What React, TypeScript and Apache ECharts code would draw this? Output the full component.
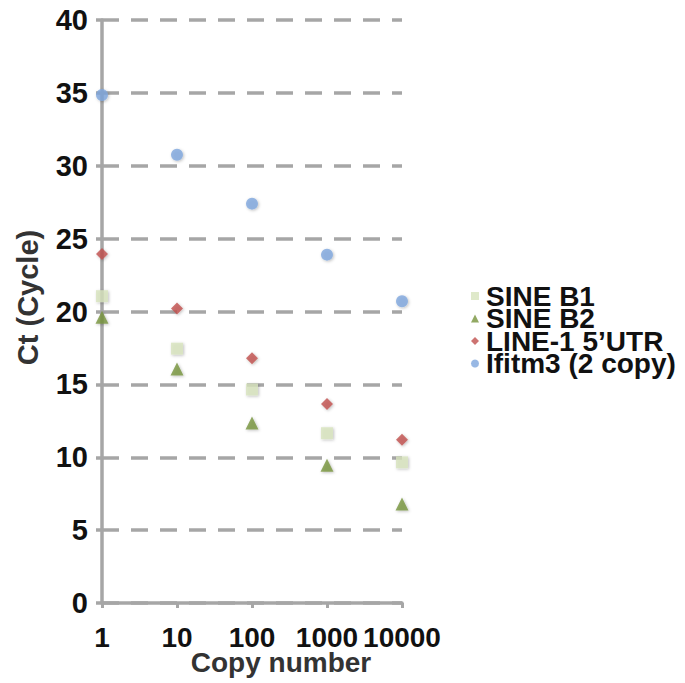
import React, { useEffect, useRef } from 'react';
import * as echarts from 'echarts';

const copyNumbers = ['1', '10', '100', '1000', '10000'];
const sineB1 = [21.05, 17.45, 14.65, 11.65, 9.65];
const sineB2 = [19.6, 16.05, 12.35, 9.45, 6.8];
const line1 = [23.95, 20.2, 16.8, 13.65, 11.2];
const ifitm3 = [34.85, 30.75, 27.4, 23.9, 20.7];
const seriesNames = ['SINE B1', 'SINE B2', 'LINE-1 5\u2019UTR', 'Ifitm3 (2 copy)'];

const FONT = "'Liberation Sans', Arial, Helvetica, sans-serif";
const GRID_GREY = '#a6a6a6';

export default function App() {
  const ref = useRef<HTMLDivElement>(null);
  useEffect(() => {
    document.body.style.margin = '0';
    const chart = echarts.init(ref.current!, null, { renderer: 'svg' });
    const shadow = {
      shadowBlur: 3,
      shadowColor: 'rgba(0,0,0,0.3)',
      shadowOffsetX: 1,
      shadowOffsetY: 1,
    };
    chart.setOption({
      animation: false,
      backgroundColor: '#ffffff',
      textStyle: { fontFamily: FONT },
      grid: {
        left: 102,
        right: 283,
        top: 20,
        bottom: 80,
        containLabel: false,
        outerBoundsMode: 'none',
      },
      legend: {
        orient: 'vertical',
        left: 466,
        top: 277,
        itemWidth: 8,
        itemHeight: 8,
        itemGap: -5.5,
        data: seriesNames,
        textStyle: {
          fontSize: 28,
          fontWeight: 'bold',
          color: '#111',
          fontFamily: FONT,
          padding: [0, 0, 0, 2],
        },
      },
      xAxis: {
        type: 'category',
        data: copyNumbers,
        boundaryGap: false,
        axisLine: { lineStyle: { color: GRID_GREY, width: 3.5 } },
        axisTick: { show: true, length: 5, lineStyle: { color: GRID_GREY, width: 3 } },
        axisLabel: {
          interval: 0,
          fontSize: 28,
          lineHeight: 20,
          fontWeight: 'bold',
          color: '#111',
          margin: 24,
          fontFamily: FONT,
        },
        splitLine: { show: false },
        name: 'Copy number',
        nameLocation: 'middle',
        nameGap: 49,
        nameMoveOverlap: false,
        nameTextStyle: {
          fontSize: 28,
          lineHeight: 20,
          fontWeight: 'bold',
          color: '#333',
          fontFamily: FONT,
          padding: [0, 0, 0, 58],
        },
      },
      yAxis: {
        type: 'value',
        min: 0,
        max: 40,
        interval: 5,
        axisLine: { show: true, lineStyle: { color: GRID_GREY, width: 3.5 } },
        axisTick: { show: true, length: 6, lineStyle: { color: GRID_GREY, width: 3.5 } },
        axisLabel: {
          fontSize: 29,
          fontWeight: 'bold',
          color: '#111',
          margin: 14,
          fontFamily: FONT,
        },
        splitLine: {
          show: true,
          lineStyle: { color: GRID_GREY, width: 3.5, type: [17, 12] },
        },
        name: 'Ct (Cycle)',
        nameLocation: 'middle',
        nameGap: 60,
        nameMoveOverlap: false,
        nameRotate: 90,
        nameTextStyle: {
          fontSize: 29,
          fontWeight: 'bold',
          color: '#333',
          fontFamily: FONT,
          padding: [0, 0, 0, 28],
        },
      },
      series: [
        {
          name: seriesNames[0],
          type: 'scatter',
          symbol: 'rect',
          symbolSize: 12,
          data: sineB1,
          itemStyle: { color: '#d7e4bd', ...shadow },
        },
        {
          name: seriesNames[1],
          type: 'scatter',
          symbol: 'triangle',
          symbolSize: 13,
          data: sineB2,
          itemStyle: { color: '#77933c', ...shadow },
        },
        {
          name: seriesNames[2],
          type: 'scatter',
          symbol: 'diamond',
          symbolSize: 12,
          data: line1,
          itemStyle: { color: '#c0504d', ...shadow },
        },
        {
          name: seriesNames[3],
          type: 'scatter',
          symbol: 'circle',
          symbolSize: 12,
          data: ifitm3,
          itemStyle: { color: '#7ea6dd', ...shadow },
        },
      ],
    });
    return () => chart.dispose();
  }, []);
  return <div ref={ref} style={{ width: 685, height: 683 }} />;
}
